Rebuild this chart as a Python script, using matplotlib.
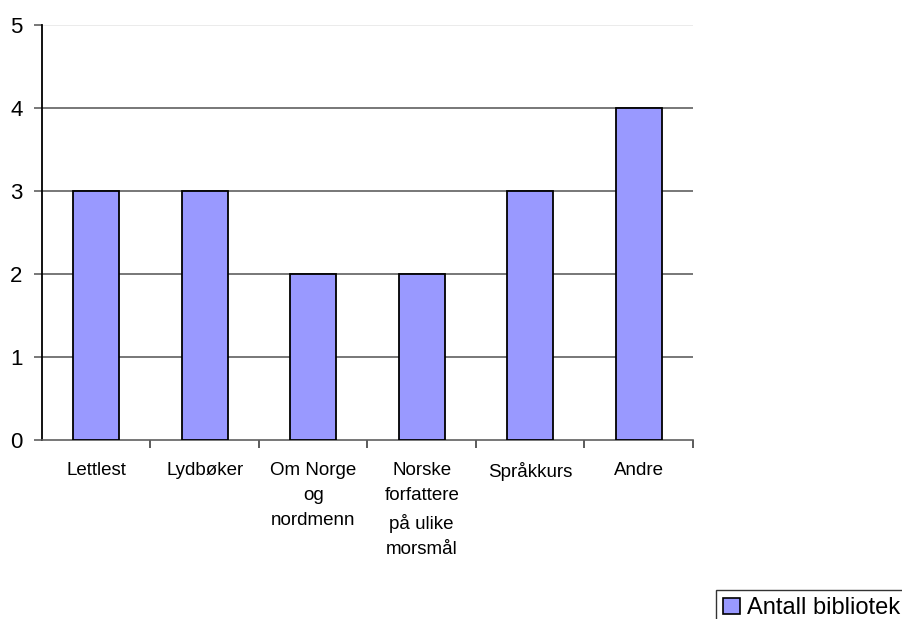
import matplotlib
matplotlib.use("Agg")
import matplotlib.pyplot as plt
from matplotlib.patches import Patch

categories = ["Lettlest", "Lydbøker", "Om Norge\nog\nnordmenn",
              "Norske\nforfattere\npå ulike\nmorsmål", "Språkkurs", "Andre"]
values = [3, 3, 2, 2, 3, 4]
series_name = "Antall bibliotek"
y_ticks = [0, 1, 2, 3, 4, 5]

plt.rcParams["font.family"] = ["Liberation Sans", "DejaVu Sans"]

fig = plt.figure(figsize=(9.03, 6.19), dpi=100)
ax = fig.add_axes([42 / 903, 1 - 440 / 619, 651 / 903, 415 / 619])

x = list(range(len(categories)))
ax.bar(x, values, width=0.42, color="#9999FF", edgecolor="black",
       linewidth=1.3, zorder=3)

ax.set_xlim(-0.5, len(categories) - 0.5)
ax.set_ylim(0, 5)

# horizontal gridlines
for t in y_ticks[1:]:
    col = "#e8e8e8" if t == y_ticks[-1] else "#606060"
    ax.axhline(t, color=col, linewidth=1.2, zorder=1)

ax.set_yticks(y_ticks)
ax.set_yticklabels([str(t) for t in y_ticks], fontsize=16)
ax.tick_params(axis="y", length=6, width=1.2, color="#606060", pad=8)

# category labels centred, tick marks at category boundaries
ax.set_xticks(x)
ax.set_xticklabels(categories, fontsize=13.5, linespacing=1.62, va="top")
ax.tick_params(axis="x", length=0, pad=16)
ax.set_xticks([i + 0.5 for i in x], minor=True)
ax.tick_params(axis="x", which="minor", length=6, width=1.2, color="#404040")

for side in ("top", "right"):
    ax.spines[side].set_visible(False)
ax.spines["left"].set_color("black")
ax.spines["left"].set_linewidth(1.3)
ax.spines["bottom"].set_color("#606060")
ax.spines["bottom"].set_linewidth(1.2)

handle = Patch(facecolor="#9999FF", edgecolor="black", linewidth=1.2)
leg = fig.legend([handle], [series_name], loc="upper left",
                 bbox_to_anchor=(716 / 903, 1 - 590 / 619),
                 fontsize=17, frameon=True, fancybox=False,
                 handlelength=0.7, handleheight=0.7, handletextpad=0.3,
                 borderpad=0.3, borderaxespad=0)
leg.get_frame().set_edgecolor("black")
leg.get_frame().set_linewidth(1.0)

fig.savefig("out.png", dpi=100)
